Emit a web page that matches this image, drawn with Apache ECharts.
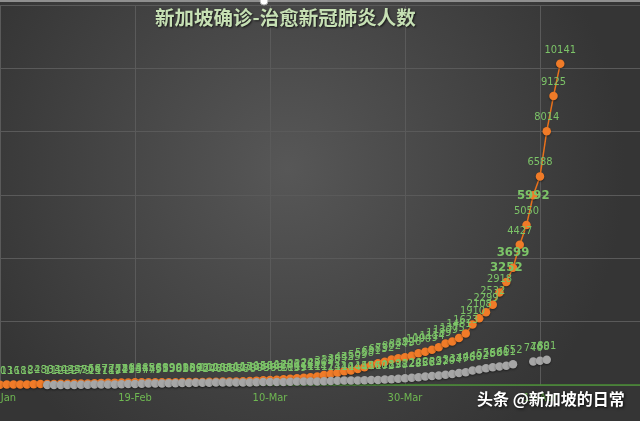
<!DOCTYPE html>
<html>
<head>
<meta charset="utf-8">
<script src="https://cdn.jsdelivr.net/npm/echarts@6/dist/echarts.min.js"></script>
<style>
html,body{margin:0;padding:0;background:#444;}
#chart{width:640px;height:421px;}
</style>
</head>
<body>
<div id="chart"></div>
<script>
// ---- data ----
const startDate = '2020-01-23';
const categoryCount = 103; // Jan 23 .. May 4
const tickLabels = ['30-Jan', '19-Feb', '10-Mar', '30-Mar', '19-Apr'];
// cumulative confirmed, Jan 23 .. Apr 22
const confirmed = [
  1, 3, 3, 4, 5, 7, 7, 10, 13,
  16, 18, 18, 24, 28, 30, 33, 40, 43, 45, 47, 50, 58, 67, 72, 75, 77, 81, 84, 84, 85, 86, 89, 89, 90, 91, 93, 96, 98,
  102, 106, 108, 110, 112, 117, 130, 138, 150, 160, 166, 178, 200, 212, 226, 243, 266, 313, 345, 385, 432, 455, 509, 558, 631, 683, 732, 802, 844, 879, 926,
  1000, 1049, 1114, 1189, 1309, 1375, 1481, 1623, 1910, 2108, 2299, 2532, 2918, 3252, 3699, 4427, 5050, 5992, 6588, 8014, 9125, 10141
];
// cumulative recovered, Jan 23 .. Apr 20 (null = no value)
const recovered = [
  null, null, null, null, null, null, null, null, null,
  null, null, null, null, null, 1, 1, 2, 2, 2, 7, 9, 15, 17, 18, 19, 24, 29, 34, 37, 47, 49, 51, 53, 58, 62, 66, 69, 72,
  74, 78, 78, 78, 78, 78, 78, 90, 93, 96, 96, 97, 105, 109, 114, 114, 114, 117, 124, 131, 140, 144, 144, 152, 156, 160, 172, 183, 198, 212, 228,
  245, 266, 282, 297, 320, 344, 377, 406, 460, 492, 528, 560, 586, 611, 652, null, null, 740, 768, 801
];
const bigLabelDates = ['14-Apr', '15-Apr', '18-Apr'];
const shiftedLabelDates = ['18-Apr'];

// ---- categories ----
const months = ['Jan','Feb','Mar','Apr','May','Jun'];
const categories = [];
{
  const d0 = new Date(startDate + 'T00:00:00Z');
  for (let i = 0; i < categoryCount; i++) {
    const d = new Date(d0.getTime() + i * 86400000);
    categories.push(d.getUTCDate() + '-' + months[d.getUTCMonth()]);
  }
}

const labelGreen = '#7cc468';
const labelFont = '"Liberation Sans Narrow", "DejaVu Sans Condensed", sans-serif';

const confirmedData = confirmed.map((v, i) => {
  const c = categories[i];
  if (bigLabelDates.indexOf(c) >= 0) {
    const lab = { fontSize: 13, fontWeight: 'bold' };
    if (shiftedLabelDates.indexOf(c) >= 0) { lab.position = 'inside'; lab.offset = [0, 5]; }
    return { value: v, label: lab };
  }
  return v;
});

const chart = echarts.init(document.getElementById('chart'), null, { renderer: 'canvas' });
chart.setOption({
  animation: false,
  backgroundColor: {
    type: 'radial', x: 0.45, y: 0.4, r: 0.8,
    colorStops: [{ offset: 0, color: '#575757' }, { offset: 1, color: '#353535' }]
  },
  title: {
    text: '新加坡确诊-治愈新冠肺炎人数',
    left: 155, top: 8, padding: 0,
    textStyle: {
      color: '#c6e0b4', fontSize: 19.5, fontWeight: 'bold',
      fontFamily: '"Noto Sans CJK SC", sans-serif',
      textShadowColor: 'rgba(0,0,0,0.7)', textShadowBlur: 2, textShadowOffsetX: 1, textShadowOffsetY: 1
    }
  },
  grid: { left: -47.25, right: -1.25, top: 5, bottom: 36, containLabel: false, outerBoundsMode: 'none' },
  xAxis: {
    type: 'category',
    data: categories,
    boundaryGap: false,
    axisLine: { lineStyle: { color: '#4a8f35', width: 1.5 } },
    axisTick: { show: false },
    axisLabel: {
      interval: (idx, val) => tickLabels.indexOf(val) >= 0,
      color: '#6fb852', fontSize: 11, fontFamily: labelFont, margin: 8
    },
    splitLine: {
      show: true,
      interval: (idx, val) => tickLabels.indexOf(val) >= 0,
      lineStyle: { color: '#5a5a5a', width: 1 }
    }
  },
  yAxis: {
    type: 'value', min: 0, max: 12000, interval: 2000,
    axisLabel: { show: false },
    axisLine: { show: false },
    axisTick: { show: false },
    splitLine: { lineStyle: { color: '#5a5a5a', width: 1 } }
  },
  series: [
    {
      name: '确诊',
      type: 'line',
      data: confirmedData,
      showAllSymbol: true,
      symbol: 'circle', symbolSize: 8.5,
      itemStyle: { color: '#f07b28', shadowColor: 'rgba(0,0,0,0.45)', shadowBlur: 2, shadowOffsetY: 1 },
      lineStyle: { color: '#e8711c', width: 1.5 },
      label: { show: true, position: 'top', distance: 4, color: labelGreen, fontSize: 11, fontFamily: labelFont },
      labelLayout: { hideOverlap: false },
      z: 2
    },
    {
      name: '治愈',
      type: 'line',
      data: recovered,
      connectNulls: false,
      showAllSymbol: true,
      symbol: 'circle', symbolSize: 8.5,
      itemStyle: { color: '#a6a6a6', shadowColor: 'rgba(0,0,0,0.45)', shadowBlur: 2, shadowOffsetY: 1 },
      lineStyle: { color: '#a6a6a6', width: 1.5 },
      label: { show: true, position: 'top', distance: 4, color: labelGreen, fontSize: 11, fontFamily: labelFont },
      labelLayout: { hideOverlap: false },
      z: 3
    }
  ],
  graphic: [
    { type: 'rect', shape: { x: 0, y: 0, width: 640, height: 2 }, style: { fill: '#8f8f8f' }, z: 100 },
    { type: 'circle', shape: { cx: 264, cy: 1, r: 4 }, style: { fill: '#ffffff', stroke: '#aaaaaa', lineWidth: 1 }, z: 101 },
    {
      type: 'text', left: 477, top: 391, z: 100,
      style: {
        text: '头条 @新加坡的日常', fill: '#ffffff', fontSize: 16,
        fontFamily: '"Noto Sans CJK SC", sans-serif', fontWeight: 'bold',
        textShadowColor: 'rgba(0,0,0,0.8)', textShadowBlur: 3, textShadowOffsetX: 1, textShadowOffsetY: 1
      }
    }
  ]
});
</script>
</body>
</html>
